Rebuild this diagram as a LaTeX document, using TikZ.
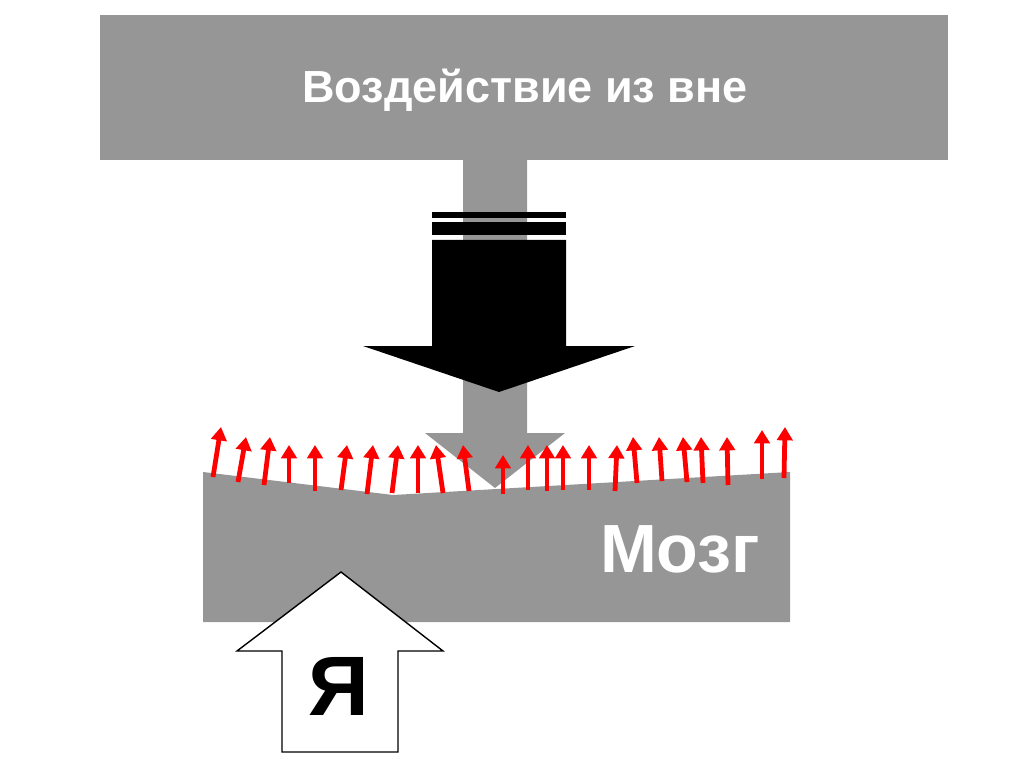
\documentclass[tikz,border=0pt]{standalone}
\usepackage{fontspec}
\setmainfont{Liberation Sans}
\usepackage{xcolor}
\usetikzlibrary{arrows.meta}
\definecolor{panel}{RGB}{150,150,150}
\definecolor{signal}{RGB}{255,0,0}

\begin{document}
\begin{tikzpicture}[x=0.025cm, y=-0.025cm,
    panelbox/.style={fill=panel, inner sep=0pt, minimum width=21.2cm, minimum height=3.625cm},
    toptext/.style={text=white, inner sep=0pt, font=\bfseries\fontsize{32}{38}\selectfont},
    bigtext/.style={text=white, inner sep=0pt, font=\bfseries\fontsize{48.5}{58}\selectfont},
    selftext/.style={inner sep=0pt, font=\bfseries\fontsize{60}{70}\selectfont},
    redarr/.style={-{Triangle[width=11pt,length=9.5pt]}, line width=3.4pt, color=signal}
  ]
    \useasboundingbox (0,0) rectangle (1024,767);

    \node[panelbox] (outside) at (524,87.5) {};
    \node[toptext] (outsidetext) at (525,90) {Воздействие из вне};

    % gray arrow from the box down to the brain
    \fill[panel] (463,160) -- (463,433) -- (425,433) -- (495,488) -- (565,433)
                 -- (527,433) -- (527,160) -- cycle;

    % black arrow with two stripes
    \fill (432,212) rectangle (566,218);
    \fill (432,222) rectangle (566,235);
    \fill (432,240) -- (432,346) -- (363,346) -- (499,392) -- (635,346)
          -- (566,346) -- (566,240) -- cycle;

    % brain
    \fill[panel] (203,472) -- (393,495) -- (790,472) -- (790,622) -- (203,622) -- cycle;
    \node[bigtext] (brain) at (680,549) {Мозг};

    % red arrows on the surface
    \foreach \bx/\by/\tx/\ty in {213/477/221/427, 238/482/246/437, 264/485/270/437,
        289/483/289/445, 315/491/315/445, 341/490/347/445, 367/494/373/445,
        392/493/398/445, 418/493/418/445, 443/493/436/445, 469/491/463/445,
        503/494/503/455, 528/490/528/445, 547/491/547/445, 563/490/563/445,
        589/490/589/445, 615/491/617/445, 637/483/633/437, 662/481/659/437,
        687/482/683/437, 703/483/701/437, 728/485/727/437, 762/479/762/430,
        784/478/785/427}
      \draw[redarr] (\bx,\by) -- (\tx,\ty);

    % self arrow
    \draw[fill=white, line width=1pt] (282,752) -- (282,651) -- (237,651) -- (341,572)
          -- (443,651) -- (398,651) -- (398,752) -- cycle;
    \node[selftext] (self) at (339,686) {Я};
\end{tikzpicture}
\end{document}
